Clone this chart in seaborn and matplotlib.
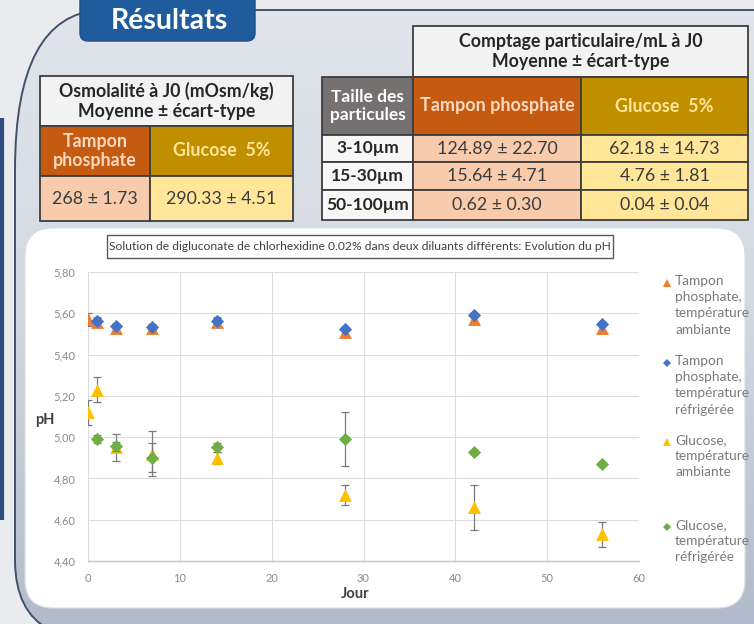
import numpy as np
import pandas as pd
import matplotlib
matplotlib.use("Agg")
import matplotlib.pyplot as plt
import seaborn as sns
from matplotlib.patches import Rectangle, FancyBboxPatch, PathPatch
from matplotlib.path import Path
from matplotlib.lines import Line2D
from matplotlib.colors import LinearSegmentedColormap

# ---------------- data ----------------
section_title = "Résultats"

osmo_title = "Osmolalité à J0 (mOsm/kg)\nMoyenne ± écart-type"
osmo_headers = ["Tampon\nphosphate", "Glucose  5%"]
osmo_values = ["268 ± 1.73", "290.33 ± 4.51"]

count_title = "Comptage particulaire/mL à J0\nMoyenne ± écart-type"
size_header = "Taille des\nparticules"
count_headers = ["Tampon phosphate", "Glucose  5%"]
particle_sizes = ["3-10µm", "15-30µm", "50-100µm"]
count_tampon = ["124.89 ± 22.70", "15.64 ± 4.71", "0.62 ± 0.30"]
count_glucose = ["62.18 ± 14.73", "4.76 ± 1.81", "0.04 ± 0.04"]

chart_title = "Solution de digluconate de chlorhexidine 0.02% dans deux diluants différents: Evolution du pH"
x_label = "Jour"
y_label = "pH"

series_names = ["Tampon phosphate, température ambiante",
                "Tampon phosphate, température réfrigérée",
                "Glucose, température ambiante",
                "Glucose, température réfrigérée"]
legend_texts = ["Tampon\nphosphate,\ntempérature\nambiante",
                "Tampon\nphosphate,\ntempérature\nréfrigérée",
                "Glucose,\ntempérature\nambiante",
                "Glucose,\ntempérature\nréfrigérée"]

days_tamp_amb = [0, 1, 3, 7, 14, 28, 42, 56]
ph_tamp_amb = [5.57, 5.56, 5.53, 5.53, 5.56, 5.51, 5.57, 5.53]
err_tamp_amb = [0.03, 0.02, 0.02, 0.02, 0.02, 0.02, 0.02, 0.02]

days_tamp_ref = [1, 3, 7, 14, 28, 42, 56]
ph_tamp_ref = [5.565, 5.54, 5.535, 5.565, 5.525, 5.59, 5.55]
err_tamp_ref = [0.01, 0.01, 0.01, 0.01, 0.01, 0.01, 0.01]

days_glu_amb = [0, 1, 3, 7, 14, 28, 42, 56]
ph_glu_amb = [5.12, 5.23, 4.95, 4.92, 4.90, 4.72, 4.66, 4.53]
err_glu_amb = [0.06, 0.06, 0.065, 0.11, 0.03, 0.05, 0.11, 0.06]

days_glu_ref = [1, 3, 7, 14, 28, 42, 56]
ph_glu_ref = [4.99, 4.955, 4.90, 4.95, 4.99, 4.93, 4.87]
err_glu_ref = [0.02, 0.02, 0.07, 0.02, 0.13, 0.01, 0.01]

x_ticks = [0, 10, 20, 30, 40, 50, 60]
y_ticks = [4.40, 4.60, 4.80, 5.00, 5.20, 5.40, 5.60, 5.80]
y_tick_labels = ["4,40", "4,60", "4,80", "5,00", "5,20", "5,40", "5,60", "5,80"]

# ---------------- style ----------------
sns.set_theme(style="white")
plt.rcParams["font.family"] = ["Lato", "DejaVu Sans"]

colors = ["#ED7D31", "#4472C4", "#FFC000", "#70AD47"]
markers = ["^", "D", "^", "D"]
marker_sizes = [85, 45, 85, 45]

W, H = 754, 624
fig = plt.figure(figsize=(W / 100, H / 100), dpi=100)
fig.patch.set_facecolor("#e9ebef")

# background axes in pixel coordinates
bg = fig.add_axes([0, 0, 1, 1])
bg.set_xlim(0, W)
bg.set_ylim(H, 0)
bg.axis("off")

# panel shape
verts = [(760, 10), (100, 10), (15, 15), (15, 170), (15, 560), (15, 612), (50, 630), (760, 630), (760, 10)]
codes = [Path.MOVETO, Path.LINETO, Path.CURVE3, Path.CURVE3, Path.LINETO, Path.CURVE3, Path.CURVE3,
         Path.LINETO, Path.CLOSEPOLY]
panel_path = Path(verts, codes)
panel = PathPatch(panel_path, facecolor="none", edgecolor="#44516b", lw=1.4, zorder=2)
bg.add_patch(panel)
cmap = LinearSegmentedColormap.from_list("g", ["#e1e5eb", "#d3d9e2", "#b2bbcb"])
grad = np.linspace(0, 1, 256).reshape(-1, 1)
im = bg.imshow(grad, cmap=cmap, extent=[0, W, H, 0], aspect="auto", zorder=1)
im.set_clip_path(panel)

# left navy strip
bg.plot([1.5, 1.5], [118, 520], color="#2f4d80", lw=3, solid_capstyle="butt", zorder=2)

# tab
tab = FancyBboxPatch((80, -20), 175, 61, boxstyle="round,pad=0,rounding_size=8",
                     facecolor="#1f5c9e", edgecolor="#1a4f88", lw=1, zorder=5)
bg.add_patch(tab)
bg.text(169, 21, section_title, color="white", fontsize=20.5, fontweight="bold",
        ha="center", va="center", zorder=6)

# white chart area
white = FancyBboxPatch((25, 228), 720, 380, boxstyle="round,pad=0,rounding_size=28",
                       facecolor="white", edgecolor="#d8dce3", lw=0.8, zorder=3)
bg.add_patch(white)

edge = "#3d3d3d"
dark_txt = "#262626"
val_txt = "#3b3b3b"


def cell(x0, y0, x1, y1, fc, text, tc, bold=False, fs=12.8):
    bg.add_patch(Rectangle((x0, y0), x1 - x0, y1 - y0, facecolor=fc, edgecolor=edge, lw=1.3, zorder=4))
    bg.text((x0 + x1) / 2, (y0 + y1) / 2, text, color=tc, fontsize=fs,
            fontweight="bold" if bold else "normal", ha="center", va="center",
            linespacing=1.2, zorder=5)


# table 1 : osmolality
cell(40, 76, 293, 126, "#f3f3f3", osmo_title, dark_txt, bold=True)
cell(40, 126, 150, 176, "#C55A11", osmo_headers[0], "#fbd9c0", bold=True)
cell(150, 126, 293, 176, "#BF8F00", osmo_headers[1], "#ffe699", bold=True)
cell(40, 176, 150, 221, "#F8CBAD", osmo_values[0], val_txt)
cell(150, 176, 293, 221, "#FFE699", osmo_values[1], val_txt)

# table 2 : particle counting
cell(413, 26, 748, 77, "#f3f3f3", count_title, dark_txt, bold=True)
cell(322, 77, 413, 135, "#767171", size_header, "white", bold=True, fs=12.5)
cell(413, 77, 581, 135, "#C55A11", count_headers[0], "#fbd9c0", bold=True, fs=13.0)
cell(581, 77, 748, 135, "#BF8F00", count_headers[1], "#ffe699", bold=True, fs=13.0)
row_edges = [135, 162, 190, 220]
for i, lab in enumerate(particle_sizes):
    y0, y1 = row_edges[i], row_edges[i + 1]
    cell(322, y0, 413, y1, "#f7f7f7", lab, dark_txt, bold=True, fs=12.5)
    cell(413, y0, 581, y1, "#F8CBAD", count_tampon[i], val_txt)
    cell(581, y0, 748, y1, "#FFE699", count_glucose[i], val_txt)

# chart title box
bg.add_patch(Rectangle((107, 235), 506, 23, facecolor="white", edgecolor="#595959", lw=1.0, zorder=4))
bg.text(360, 246.5, chart_title, color="#404040", fontsize=8.7, ha="center", va="center", zorder=5)

# ---------------- scatter plot ----------------
x0p, x1p, ytop, ybot = 88, 639, 272, 561
ax = fig.add_axes([x0p / W, (H - ybot) / H, (x1p - x0p) / W, (ybot - ytop) / H], zorder=10)
ax.set_facecolor("none")

frames = []
for name, d, p, e in zip(series_names,
                         [days_tamp_amb, days_tamp_ref, days_glu_amb, days_glu_ref],
                         [ph_tamp_amb, ph_tamp_ref, ph_glu_amb, ph_glu_ref],
                         [err_tamp_amb, err_tamp_ref, err_glu_amb, err_glu_ref]):
    frames.append(pd.DataFrame({"Jour": d, "pH": p, "err": e, "serie": name}))
df = pd.concat(frames, ignore_index=True)

for i, name in enumerate(series_names):
    sub = df[df["serie"] == name]
    ax.errorbar(sub["Jour"], sub["pH"], yerr=sub["err"], fmt="none", ecolor="#7a7a7a",
                elinewidth=0.9, capsize=3, capthick=0.9, zorder=2 + 2 * i)
    sns.scatterplot(data=sub, x="Jour", y="pH", ax=ax, color=colors[i], marker=markers[i],
                    s=marker_sizes[i], linewidth=0, legend=False, zorder=3 + 2 * i)

ax.set_xlim(0, 60)
ax.set_ylim(4.4, 5.8)
ax.set_xticks(x_ticks)
ax.set_xticklabels([str(t) for t in x_ticks])
ax.set_yticks(y_ticks)
ax.set_yticklabels(y_tick_labels)
ax.tick_params(axis="both", labelsize=8, labelcolor="#8a8a8a", length=0, pad=9)
ax.grid(True, color="#dcdcdc", lw=0.8)
for s in ["top", "right", "left"]:
    ax.spines[s].set_visible(False)
ax.spines["bottom"].set_color("#c4c4c4")
ax.spines["bottom"].set_linewidth(1.0)
ax.set_xlabel("")
ax.set_ylabel("")
for lab in ax.get_xticklabels() + ax.get_yticklabels():
    lab.set_clip_on(False)

bg.text(355, 594, x_label, fontsize=10.5, fontweight="bold", color="#404040", ha="center", va="center", zorder=6)
bg.text(45, 420, y_label, fontsize=10.5, fontweight="bold", color="#404040", ha="center", va="center", zorder=6)

# legend (manual, multi-line, marker on first line)
leg_y = [283, 363, 442, 527]
for i, txt in enumerate(legend_texts):
    bg.add_line(Line2D([667], [leg_y[i]], marker=markers[i], color=colors[i], ls="none",
                       markersize=5.5 if markers[i] == "^" else 4, markeredgewidth=0, zorder=6))
    bg.text(675, leg_y[i] - 8, txt, fontsize=9.8, color="#7a7a7a", ha="left", va="top",
            linespacing=1.42, zorder=6)

fig.savefig("out.png", dpi=100, facecolor=fig.get_facecolor())
